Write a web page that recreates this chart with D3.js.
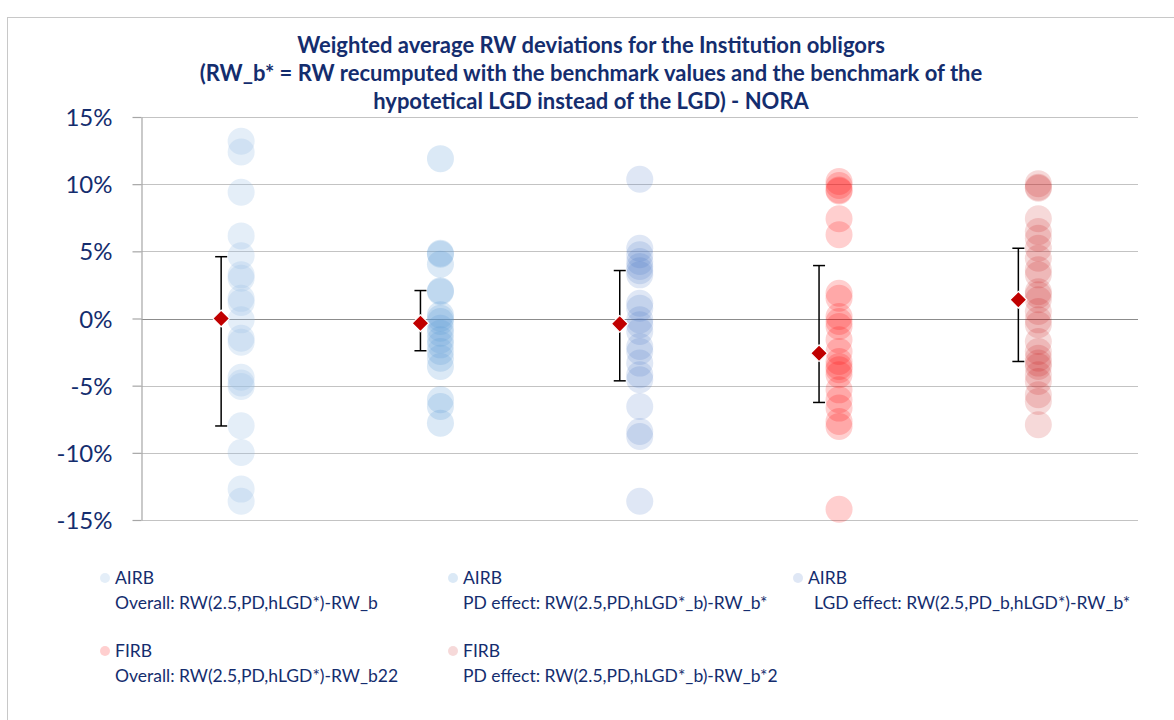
<!DOCTYPE html>
<html>
<head>
<meta charset="utf-8">
<script src="https://cdn.jsdelivr.net/npm/d3@7/dist/d3.min.js"></script>
<style>
  html, body { margin: 0; padding: 0; background: #fff; }
  svg { display: block; font-family: Lato, "Open Sans", sans-serif; }
</style>
</head>
<body>
<svg id="chart" width="1174" height="720"></svg>
<script>
// Series keys, in drawing order
const categories = ["airbOverall", "airbPD", "airbLGD", "firbOverall", "firbPD"];

// Weighted average RW deviations per obligor (fractions)
const airbOverall = [0.132, 0.124, 0.094, 0.0615, 0.0467, 0.0325, 0.030, 0.015, 0.012, -0.001,
  -0.0147, -0.0176, -0.0437, -0.048, -0.0506, -0.0798, -0.0997, -0.127, -0.136];
const airbPD = [0.119, 0.0486, 0.0478, 0.0404, 0.0206, 0.020, 0.0027, 0.0002, -0.0022, -0.0072,
  -0.0109, -0.0159, -0.0196, -0.0246, -0.0295, -0.0357, -0.0605, -0.0655, -0.0779];
const airbLGD = [0.1037, 0.0523, 0.0474, 0.0424, 0.0387, 0.0355, 0.0325, 0.0114, 0.0077, -0.001,
  -0.0047, -0.0097, -0.0208, -0.0246, -0.0332, -0.0419, -0.0456, -0.0655, -0.0841, -0.0878, -0.136];
const firbOverall = [0.102, 0.099, 0.0957, 0.095, 0.0742, 0.0623, 0.0188, 0.0151, 0.0015, -0.0022,
  -0.006, -0.0159, -0.0246, -0.032, -0.0357, -0.0382, -0.0419, -0.0531, -0.0605, -0.0667,
  -0.0766, -0.0804, -0.142];
const firbPD = [0.1004, 0.0977, 0.097, 0.0742, 0.0647, 0.0597, 0.0523, 0.0449, 0.0362, 0.0325,
  0.020, 0.0176, 0.0139, 0.0052, -0.001, -0.0047, -0.0171, -0.0246, -0.0295, -0.0332,
  -0.0357, -0.0419, -0.0469, -0.0568, -0.0618, -0.0791];

// Weighted mean and spread for each series
const means = [0.000, -0.0035, -0.0040, -0.0258, 0.0139];
const errHigh = [0.046, 0.0208, 0.0357, 0.0394, 0.0523];
const errLow = [-0.080, -0.024, -0.0464, -0.0625, -0.032];

const yTicks = [-0.15, -0.10, -0.05, 0, 0.05, 0.10, 0.15];
const yTickLabels = ["-15%", "-10%", "-5%", "0%", "5%", "10%", "15%"];

const titleLines = [
  "Weighted average RW deviations for the Institution obligors",
  "(RW_b* = RW recumputed with the benchmark values and the benchmark of the",
  "hypotetical LGD instead of the LGD) - NORA"
];
const legendGroups = ["AIRB", "AIRB", "AIRB", "FIRB", "FIRB"];
const legendLabels = [
  "Overall: RW(2.5,PD,hLGD*)-RW_b",
  "PD effect: RW(2.5,PD,hLGD*_b)-RW_b*",
  "LGD effect: RW(2.5,PD_b,hLGD*)-RW_b*",
  "Overall: RW(2.5,PD,hLGD*)-RW_b22",
  "PD effect: RW(2.5,PD,hLGD*_b)-RW_b*2"
];

const seriesValues = [airbOverall, airbPD, airbLGD, firbOverall, firbPD];
const seriesFill = ["#9DC3E6", "#5B9BD5", "#4472C4", "#FF0000", "#C00000"];
const seriesOpacity = [0.28, 0.22, 0.17, 0.19, 0.15];

const navy = "#142d6e";
const svg = d3.select("#chart");

// outer chart frame
svg.append("rect")
  .attr("x", 7.5).attr("y", 17.5).attr("width", 1200).attr("height", 800)
  .attr("fill", "none").attr("stroke", "#c8c8c8").attr("stroke-width", 1);

const plot = { left: 141.5, right: 1138, top: 117, bottom: 520 };

const x = d3.scaleBand().domain(categories).range([plot.left, plot.right]);
const y = d3.scaleLinear().domain([-0.15, 0.15]).range([plot.bottom, plot.top]);

// horizontal gridlines
svg.append("g").selectAll("line").data(yTicks).join("line")
  .attr("x1", plot.left).attr("x2", plot.right)
  .attr("y1", d => Math.round(y(d)) + 0.5).attr("y2", d => Math.round(y(d)) + 0.5)
  .attr("stroke", d => d === 0 ? "#8c8c8c" : "#c3c3c3")
  .attr("stroke-width", 1.2);

// y axis
const yAxis = d3.axisLeft(y)
  .tickValues(yTicks)
  .tickFormat((d, i) => yTickLabels[i])
  .tickSizeInner(9).tickSizeOuter(0).tickPadding(20);
const gy = svg.append("g").attr("transform", `translate(${plot.left},0)`).call(yAxis);
gy.select(".domain").attr("stroke", "#a6a6a6").attr("stroke-width", 1.2);
gy.selectAll(".tick line").attr("stroke", "#a6a6a6").attr("stroke-width", 1.2);
gy.selectAll(".tick text")
  .attr("fill", navy).attr("font-size", 24).attr("font-family", "Lato, sans-serif")
  .attr("dy", "0.36em");

// observation dots
categories.forEach((c, i) => {
  const cx = x(c) + x.bandwidth() / 2;
  svg.append("g").selectAll("circle").data(seriesValues[i]).join("circle")
    .attr("cx", cx).attr("cy", d => y(d)).attr("r", 13.5)
    .attr("fill", seriesFill[i]).attr("fill-opacity", seriesOpacity[i]);
});

// mean markers with error bars
const meanOffset = -20;
const capHalf = 6;
categories.forEach((c, i) => {
  const mx = x(c) + x.bandwidth() / 2 + meanOffset;
  const g = svg.append("g");
  g.append("line").attr("x1", mx).attr("x2", mx)
    .attr("y1", y(errHigh[i])).attr("y2", y(errLow[i]))
    .attr("stroke", "#000").attr("stroke-width", 1.5);
  [errHigh[i], errLow[i]].forEach(v => {
    g.append("line").attr("x1", mx - capHalf).attr("x2", mx + capHalf)
      .attr("y1", y(v)).attr("y2", y(v))
      .attr("stroke", "#000").attr("stroke-width", 1.5);
  });
  g.append("path")
    .attr("d", d3.symbol(d3.symbolSquare, 140)())
    .attr("transform", `translate(${mx},${y(means[i])}) rotate(45)`)
    .attr("fill", "#C00000").attr("stroke", "#fff").attr("stroke-width", 1.2);
});

// title
svg.append("g").selectAll("text").data(titleLines).join("text")
  .attr("x", 591).attr("y", (d, i) => 53 + i * 28)
  .attr("text-anchor", "middle")
  .attr("font-size", 22).attr("font-weight", "bold")
  .attr("fill", navy)
  .text(d => d);

// legend
const legendPos = [
  [105, 578], [453, 578], [798, 578],
  [105, 651], [453, 651]
];
categories.forEach((c, i) => {
  const [lx, ly] = legendPos[i];
  const g = svg.append("g");
  g.append("circle").attr("cx", lx).attr("cy", ly).attr("r", 5)
    .attr("fill", seriesFill[i]).attr("fill-opacity", seriesOpacity[i]);
  g.append("text").attr("x", lx + 10).attr("y", ly + 6)
    .attr("font-size", 17.5).attr("fill", navy).text(legendGroups[i]);
  g.append("text").attr("x", lx + 10 + (i === 2 ? 6 : 0)).attr("y", ly + 31)
    .attr("font-size", 17.5).attr("fill", navy).text(legendLabels[i]);
});
</script>
</body>
</html>
